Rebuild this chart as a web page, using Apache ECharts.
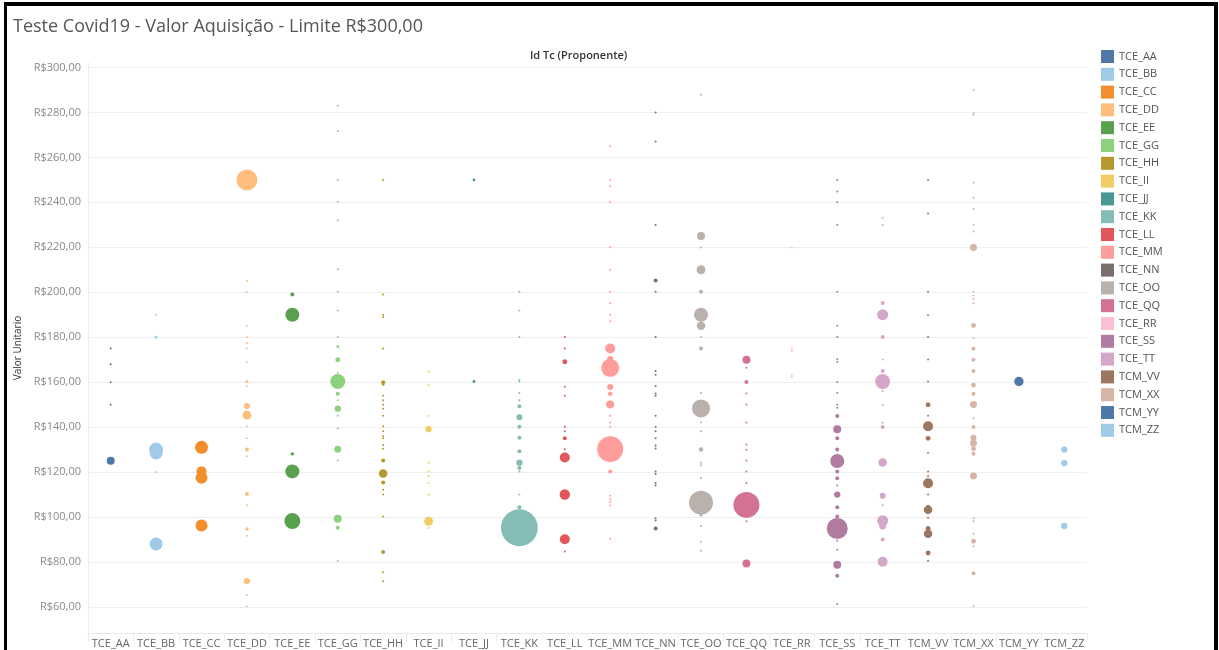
<!DOCTYPE html>
<html>
<head>
<meta charset="utf-8">
<script src="https://cdn.jsdelivr.net/npm/echarts@6/dist/echarts.min.js"></script>
<style>
  html, body { margin: 0; padding: 0; background: #fff; }
  #wrap { position: relative; width: 1219px; height: 650px; overflow: hidden; }
  #chart { position: absolute; left: 0; top: 0; width: 1219px; height: 650px; }
  #frame { position: absolute; left: 4px; top: 2px; width: 1207px; height: 700px;
           border-left: 3px solid #000; border-top: 4px solid #000; border-right: 4px solid #000;
           pointer-events: none; }
</style>
</head>
<body>
<div id="wrap"><div id="chart"></div><div id="frame"></div></div>
<script>
// Categories (Id Tc Proponente)
const categories = ['TCE_AA','TCE_BB','TCE_CC','TCE_DD','TCE_EE','TCE_GG','TCE_HH','TCE_II','TCE_JJ','TCE_KK','TCE_LL','TCE_MM','TCE_NN','TCE_OO','TCE_QQ','TCE_RR','TCE_SS','TCE_TT','TCM_VV','TCM_XX','TCM_YY','TCM_ZZ'];
const colors = ['#4e79a7','#a0cbe8','#f28e2b','#ffbe7d','#59a14f','#8cd17d','#b6992d','#f1ce63','#499894','#86bcb6','#e15759','#ff9d9a','#79706e','#bab0ac','#d37295','#fabfd2','#b07aa1','#d4a6c8','#9d7660','#d7b5a6','#4e79a7','#a0cbe8'];
// Y tick labels (Valor Unitario)
const yTicks = [60,80,100,120,140,160,180,200,220,240,260,280,300];

// Points per category: [valor unitario, quantidade]
const AA = [[175,1],[168,1],[160,1],[150,1],[125,16]];
const BB = [[190,1],[180,2],[130,49],[128.5,42],[120,1],[88,42]];
const CC = [[131,42],[120.3,25],[117.5,36],[96.2,36]];
const DD = [[250,110],[205,1],[200,1],[185,1],[180,1],[177.4,1],[175,1],[169,1],[160.3,2],[158.3,1],[149.4,9],[145.3,20],[140.4,1],[135,1],[130,4],[127,1],[110.2,4],[105.2,1],[94.7,3],[91.7,1],[71.5,10],[65.3,1],[60.3,1]];
const EE = [[199,4],[190,49],[128.1,3],[120.3,49],[98.2,64]];
const GG = [[283,1],[271.7,1],[250,1],[240.2,1],[232,1],[210.2,1],[200.2,1],[191.9,1],[180.1,1],[175.8,2],[170,6],[164.2,1],[160.3,56],[154.9,4],[152,1],[148.2,10],[145.1,1],[139.4,1],[130.2,12],[125.1,1],[99.2,16],[95.2,4],[80.4,1]];
const HH = [[250,1],[199,1],[190,1],[189,1],[175,1],[160,4],[159,2],[154,1],[152,1],[150,1],[148.2,1],[145.1,1],[140.4,1],[138.2,1],[136,1],[135,1],[132,1],[130.4,1],[125.1,4],[119.4,18],[115.4,4],[112.1,1],[110,1],[100.2,1],[84.4,4],[75.4,1],[71.4,1]];
const II = [[164.7,1],[158.7,1],[145.1,1],[139.1,10],[124.2,1],[120.2,1],[118.3,1],[115.1,1],[110,1],[98.1,20],[95.1,1]];
const JJ = [[250,2],[160.3,2]];
const KK = [[200.2,1],[191.9,1],[180.1,1],[161,1],[160.3,1],[155.2,1],[152,1],[149.3,4],[144.4,9],[140.2,4],[135.3,4],[129.3,4],[124.2,10],[121.8,4],[120.3,1],[110,1],[104.4,4],[95.2,340]];
const LL = [[180.1,1],[175,1],[169.1,6],[158,1],[153.9,1],[140.2,1],[138.2,1],[135,4],[130.2,1],[126.5,25],[110,27],[90.1,25],[84.7,1]];
const MM = [[265,1],[250,1],[247.2,1],[240.2,1],[220,1],[210,1],[200.2,1],[195.1,1],[190,1],[187.1,1],[175,25],[170.3,9],[166.4,81],[157.9,9],[154.9,5],[150.1,16],[145.1,1],[142.1,1],[140.2,1],[130.2,169],[120.2,4],[109.5,1],[108,1],[106.8,1],[105.1,1],[90.3,1]];
const NN = [[280,1],[267.1,1],[229.9,1],[205.2,4],[200.2,1],[180.1,1],[165,1],[163.3,1],[158.3,1],[155,1],[154,1],[145.1,1],[140.2,1],[138.2,1],[135,1],[131.8,1],[130.5,1],[120.3,1],[119.1,1],[115.1,1],[114,1],[99.5,1],[98.4,1],[94.9,4]];
const OO = [[287.9,1],[225,16],[219.9,1],[210,20],[200.2,4],[190,49],[185.1,18],[180.1,1],[175,4],[155.2,1],[148.3,81],[142,1],[138.2,1],[130,5],[124.2,1],[123,1],[117.2,1],[106.4,144],[100.8,2],[96,1],[89,1],[85,1]];
const QQ = [[170,16],[166.4,1],[160.1,4],[155,1],[150.1,1],[142.1,1],[132.3,1],[129.9,1],[125.1,1],[120.2,1],[115.1,1],[105.4,169],[98.1,1],[79.3,16]];
const RR = [[219.9,1],[175,1],[174,1],[163.3,1],[162.3,1]];
const SS = [[250,1],[244.8,1],[240.2,1],[229.9,1],[200.2,1],[185.1,1],[180.1,1],[170.3,1],[169.1,1],[160.1,1],[155.2,1],[149.9,1],[148.6,1],[145,4],[139.1,16],[135,4],[130,4],[124.9,49],[120.2,4],[117.2,4],[114,1],[110,10],[104.4,4],[100.2,4],[94.9,110],[89.4,1],[85.4,1],[78.8,16],[73.9,4],[61.3,1]];
const TT = [[233.1,1],[229.9,1],[195.2,4],[190,30],[180.1,4],[170.1,1],[165,4],[160.3,56],[156.1,1],[149.9,1],[142,1],[140.1,4],[124.3,18],[109.5,9],[105.2,1],[98.4,30],[96,12],[90,4],[80.1,25]];
const VV = [[250,1],[235,1],[200.2,1],[189.8,1],[180.1,1],[170.1,1],[160.3,1],[149.9,6],[145.1,1],[140.4,25],[135,6],[128.6,1],[120.2,1],[118.3,1],[115,25],[110,1],[104.8,2],[103.2,18],[99.7,1],[94.9,6],[92.6,18],[84,6],[80.6,1]];
const XX = [[290,1],[279.6,1],[278.9,1],[248.8,1],[242.1,1],[237,1],[229.9,1],[227,1],[219.9,12],[200.2,1],[198.6,1],[197,1],[195.1,1],[185.2,6],[179.7,1],[174.9,4],[170,4],[165,4],[158.7,6],[154.9,4],[150.1,12],[144,1],[140.1,4],[135.3,9],[132.8,12],[130.4,6],[128.1,4],[118.3,12],[99.4,1],[98.1,1],[92.6,1],[89.2,6],[87,1],[75,4],[60.3,1]];
const YY = [[160.3,22]];
const ZZ = [[130,10],[124,10],[96,10]];

const pointSets = [AA,BB,CC,DD,EE,GG,HH,II,JJ,KK,LL,MM,NN,OO,QQ,RR,SS,TT,VV,XX,YY,ZZ];

const font = "'Open Sans', 'DejaVu Sans', sans-serif";
const chart = echarts.init(document.getElementById('chart'), null, { renderer: 'canvas' });

const series = categories.map((c, i) => ({
  name: c,
  type: 'scatter',
  itemStyle: { color: colors[i], opacity: 1 },
  symbolSize: d => 2 * Math.sqrt(d[2]),
  emphasis: { disabled: true },
  data: pointSets[i].slice().sort((a, b) => b[1] - a[1]).map(p => [c, p[0], p[1]])
}));

chart.setOption({
  animation: false,
  color: colors,
  textStyle: { fontFamily: font },
  title: {
    text: 'Teste Covid19 - Valor Aquisição - Limite R$300,00',
    left: 8, top: 13,
    textStyle: { fontSize: 18, fontWeight: 'normal', color: '#555', fontFamily: font }
  },
  graphic: [{
    type: 'text', left: 530, top: 50,
    style: { text: 'Id Tc (Proponente)', font: "600 11px " + font, fill: '#333' }
  }],
  legend: {
    orient: 'vertical', left: 1096, top: 45,
    icon: 'rect', itemWidth: 13, itemHeight: 13, itemGap: 4.8,
    textStyle: { fontSize: 11, color: '#555', fontFamily: font },
    data: categories
  },
  grid: { left: 88, right: 132, top: 63, bottom: 17, containLabel: false },
  xAxis: {
    type: 'category', data: categories,
    axisLine: { show: true, lineStyle: { color: '#e8e8e8' } },
    axisTick: { show: true, length: 9, lineStyle: { color: '#eeeeee' } },
    axisLabel: { interval: 0, fontSize: 11, color: '#666', margin: 5, fontFamily: font },
    splitLine: { show: false }
  },
  yAxis: {
    type: 'value', min: 48.4, max: 302,
    name: 'Valor Unitario', nameLocation: 'middle', nameGap: 62, nameRotate: 90,
    nameTextStyle: { fontSize: 10, color: '#333', fontFamily: font },
    axisLine: { show: true, lineStyle: { color: '#ececec' } },
    axisTick: { show: false, customValues: yTicks },
    axisLabel: { customValues: yTicks, fontSize: 11, color: '#8a8a8a', margin: 7, fontFamily: font,
                 formatter: v => 'R$' + v + ',00' },
    splitLine: { show: true, lineStyle: { color: '#efefef' } }
  },
  tooltip: { show: false },
  series: series
});
</script>
</body>
</html>
